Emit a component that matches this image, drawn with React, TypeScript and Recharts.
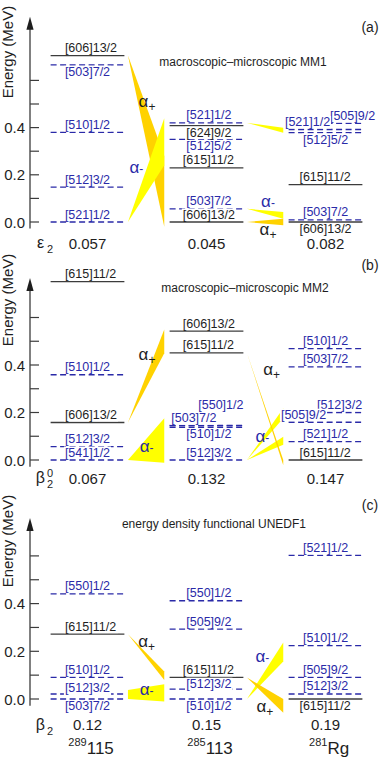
import React from "react";
import {
  ComposedChart,
  XAxis,
  YAxis,
  Line,
  Area,
  Scatter,
  ReferenceLine,
  ReferenceDot,
} from "recharts";

const FONT = '"Liberation Sans", Arial, Helvetica, sans-serif';
const INK = "#1e1e1e";
const SOLID = "#3c3c3c";
const BLUE = "#2a2aa8";
const GOLD = "#ffd200";
const YELLOW = "#ffff00";

// ---------- data ----------
const massNumbers = ["289", "285", "281"];
const nuclei = ["115", "113", "Rg"];

const eps2MM1 = ["0.057", "0.045", "0.082"];
const beta20MM2 = ["0.067", "0.132", "0.147"];
const beta2UNEDF1 = ["0.12", "0.15", "0.19"];

const energyTicks = [0, 0.1, 0.2, 0.3, 0.4, 0.5, 0.6];
const labelledTicks = [0, 0.2, 0.4];

// [column, Nilsson orbital, energy (MeV), label under the line]
type Level = [number, string, number, boolean?];
// [from column, start low, start high, end low, end high, alpha sign]
type Decay = [number, number, number, number, number, "+" | "-"];

const levelsMM1: Level[] = [
  [0, "[606]13/2", 0.705],
  [0, "[503]7/2", 0.666, true],
  [0, "[510]1/2", 0.38],
  [0, "[512]3/2", 0.148],
  [0, "[521]1/2", 0.0],
  [1, "[521]1/2", 0.42],
  [1, "[624]9/2", 0.408, true],
  [1, "[512]5/2", 0.35, true],
  [1, "[615]11/2", 0.229],
  [1, "[503]7/2", 0.056],
  [1, "[606]13/2", 0.0],
  [2, "[505]9/2", 0.418],
  [2, "[521]1/2", 0.392],
  [2, "[512]5/2", 0.379, true],
  [2, "[615]11/2", 0.158],
  [2, "[503]7/2", 0.009],
  [2, "[606]13/2", 0.0, true],
];

const decaysMM1: Decay[] = [
  [0, 0.705, 0.705, -0.02, 0.28, "+"],
  [0, 0.0, 0.0, 0.24, 0.44, "-"],
  [1, 0.42, 0.42, 0.378, 0.399, "-"],
  [1, 0.056, 0.056, 0.014, 0.042, "-"],
  [1, 0.0, 0.0, -0.014, 0.014, "+"],
];

const levelsMM2: Level[] = [
  [0, "[615]11/2", 0.751],
  [0, "[510]1/2", 0.359],
  [0, "[606]13/2", 0.158],
  [0, "[512]3/2", 0.056],
  [0, "[541]1/2", 0.0],
  [1, "[606]13/2", 0.543],
  [1, "[615]11/2", 0.451],
  [1, "[550]1/2", 0.146],
  [1, "[503]7/2", 0.144],
  [1, "[510]1/2", 0.137, true],
  [1, "[512]3/2", 0.0],
  [2, "[510]1/2", 0.469],
  [2, "[503]7/2", 0.392],
  [2, "[512]3/2", 0.2],
  [2, "[505]9/2", 0.159],
  [2, "[521]1/2", 0.077],
  [2, "[615]11/2", 0.0],
];

const decaysMM2: Decay[] = [
  [0, 0.158, 0.158, 0.45, 0.55, "+"],
  [0, 0.0, 0.0, -0.012, 0.176, "-"],
  [1, 0.0, 0.0, 0.176, 0.218, "-"],
  [1, 0.0, 0.0, 0.064, 0.098, "-"],
  [1, 0.451, 0.451, -0.022, 0.0, "+"],
];

const levelsUNEDF1: Level[] = [
  [0, "[550]1/2", 0.441],
  [0, "[615]11/2", 0.272],
  [0, "[510]1/2", 0.091],
  [0, "[512]3/2", 0.021],
  [0, "[503]7/2", 0.0, true],
  [1, "[550]1/2", 0.412],
  [1, "[505]9/2", 0.293],
  [1, "[615]11/2", 0.091],
  [1, "[512]3/2", 0.041],
  [1, "[510]1/2", 0.0, true],
  [2, "[521]1/2", 0.602],
  [2, "[510]1/2", 0.224],
  [2, "[505]9/2", 0.091],
  [2, "[512]3/2", 0.021],
  [2, "[615]11/2", 0.0, true],
];

const decaysUNEDF1: Decay[] = [
  [0, 0.272, 0.272, 0.08, 0.115, "+"],
  [0, 0.0, 0.038, -0.011, 0.062, "-"],
  [1, 0.0, 0.0, 0.157, 0.237, "-"],
  [1, 0.09, 0.09, -0.058, 0.0, "+"],
];

// ---------- layout ----------
const Z = 222; // px from top of a panel to E = 0
const X_MIN = -0.4832;
const X_MAX = 2.4748;
const HALF = 0.31;
const GAP0 = 0.34;
const GAP1 = 0.645;

// where the alpha tags sit: [x, energy, sign]
const alphaTagsMM1: [number, number, "+" | "-"][] = [
  [0.5, 0.51, "+"],
  [0.41, 0.228, "-"],
  [1.517, 0.086, "-"],
  [1.517, -0.034, "+"],
];
const alphaTagsMM2: [number, number, "+" | "-"][] = [
  [0.5, 0.442, "+"],
  [0.497, 0.056, "-"],
  [1.548, 0.379, "+"],
  [1.47, 0.098, "-"],
];
const alphaTagsUNEDF1: [number, number, "+" | "-"][] = [
  [0.497, 0.24, "+"],
  [0.497, 0.038, "-"],
  [1.47, 0.177, "-"],
  [1.49, -0.032, "+"],
];

// pixel nudges for crowded labels
const tagNudge: Record<string, [number, number]> = {
  "a 2 [521]1/2": [-18, 0],
  "a 2 [505]9/2": [27, 0],
  "b 1 [550]1/2": [12, -13],
  "b 1 [503]7/2": [-15, 0],
  "b 2 [512]3/2": [14, 0],
  "b 2 [505]9/2": [-22, 0],
  "c 0 [512]3/2": [0, 2],
  "c 1 [512]3/2": [0, 2],
};

const panels = [
  {
    id: "a", top: 0, height: 265, scale: 236,
    title: "macroscopic\u2013microscopic MM1", titleAt: [1.307, 0.678],
    letterE: 0.826, arrowTip: 0.87, energyAt: 0.72,
    sym: "\u03b5", symSup: "", defRow: -0.09, deform: eps2MM1,
    levels: levelsMM1, decays: decaysMM1, alphas: alphaTagsMM1, nuclei: false,
  },
  {
    id: "b", top: 238, height: 265, scale: 237.5,
    title: "macroscopic\u2013microscopic MM2", titleAt: [1.324, 0.724],
    letterE: 0.821, arrowTip: 0.766, energyAt: 0.674,
    sym: "\u03b2", symSup: "0", defRow: -0.077, deform: beta20MM2,
    levels: levelsMM2, decays: decaysMM2, alphas: alphaTagsMM2, nuclei: false,
  },
  {
    id: "c", top: 477, height: 284, scale: 238.5,
    title: "energy density functional UNEDF1", titleAt: [1.063, 0.734],
    letterE: 0.813, arrowTip: 0.759, energyAt: 0.662,
    sym: "\u03b2", symSup: "", defRow: -0.109, deform: beta2UNEDF1,
    levels: levelsUNEDF1, decays: decaysUNEDF1, alphas: alphaTagsUNEDF1, nuclei: true,
  },
];

function textWidth(s: string, fs: number) {
  let w = 0;
  for (const ch of s) w += "[]/".includes(ch) ? 0.278 : 0.556;
  return w * fs;
}

function LevelTag(props: any) {
  const { cx, cy, payload } = props;
  const { text, below, anchor, nx, ny, blue } = payload;
  const fs = 12.5;
  const w = textWidth(text, fs);
  const x = cx + nx;
  const base = cy + ny + (below ? 11 : -3.5);
  const left = anchor === "start" ? x : x - w / 2;
  return (
    <g>
      <rect x={left - 1} y={base - 10} width={w + 2} height={12.5} fill="#fff" />
      <text x={left} y={base} fontSize={fs} fill={blue ? BLUE : INK} fontFamily={FONT}>
        {text}
      </text>
    </g>
  );
}

function AlphaTag(props: any) {
  const { cx, cy, payload } = props;
  const minus = payload.sign === "-";
  return (
    <text x={cx} y={cy + 5} textAnchor="middle" fontFamily={FONT} fill={minus ? BLUE : INK}>
      <tspan fontSize={17}>α</tspan>
      <tspan fontSize={12} dy={minus ? 0 : 4}>{minus ? "-" : "+"}</tspan>
    </text>
  );
}

function DeformTag(props: any) {
  const { cx, cy, payload } = props;
  return (
    <text x={cx} y={cy + 5.5} textAnchor="middle" fontSize={15} fill={INK} fontFamily={FONT}>
      {payload.v}
    </text>
  );
}

function NucleusTag(props: any) {
  const { cx, cy, payload } = props;
  return (
    <text x={cx} y={cy + 6} textAnchor="middle" fill={INK} fontFamily={FONT}>
      <tspan fontSize={11} dy={-8}>{payload.mass}</tspan>
      <tspan fontSize={17} dy={8}>{payload.name}</tspan>
    </text>
  );
}

function EnergyTick(props: any) {
  const { x, y, payload } = props;
  const v: number = payload.value;
  const shown = labelledTicks.some((t) => Math.abs(t - v) < 1e-6);
  return (
    <g>
      <line x1={x} x2={x + 9} y1={y} y2={y} stroke={SOLID} strokeWidth={1.2} />
      {shown && (
        <text x={x - 5} y={y + 5.5} textAnchor="end" fontSize={15} fill={INK} fontFamily={FONT}>
          {v.toFixed(1)}
        </text>
      )}
    </g>
  );
}

function Panel({ p }: { p: (typeof panels)[number] }) {
  const yMax = Z / p.scale;
  const yMin = -(p.height - Z) / p.scale;

  const tags = p.levels.map(([col, orb, e, below]) => {
    const n = tagNudge[`${p.id} ${col} ${orb}`] || [0, 0];
    return {
      x: col === 0 ? col - 0.19 : col === 1 ? col + 0.02 : col,
      y: e,
      text: orb,
      below: !!below,
      anchor: col === 0 ? "start" : "middle",
      nx: n[0],
      ny: n[1],
      blue: orb[1] === "5",
    };
  });
  const alphas = p.alphas.map(([x, y, sign]) => ({ x, y, sign }));
  const deform = p.deform.map((v, i) => ({ x: i, y: p.defRow, v }));
  const nucl = nuclei.map((name, i) => ({ x: i + 0.03, y: -0.205, name, mass: massNumbers[i] }));

  return (
    <div style={{ position: "absolute", left: 0, top: p.top }}>
      <ComposedChart width={382} height={p.height} margin={{ top: 0, right: 0, bottom: 0, left: 0 }}>
        <XAxis type="number" dataKey="x" domain={[X_MIN, X_MAX]} allowDataOverflow hide />
        <YAxis
          type="number"
          domain={[yMin, yMax]}
          allowDataOverflow
          ticks={energyTicks}
          interval={0}
          width={30}
          axisLine={false}
          tickLine={false}
          tickSize={0}
          tickMargin={0}
          tick={(t: any) => <EnergyTick {...t} />}
        />

        {p.decays.map(([col, s0, s1, e0, e1, sign], i) => (
          <Area
            key={`d${i}`}
            data={[
              { x: col + GAP0, r: [s0, s1] },
              { x: col + GAP1, r: [e0, e1] },
            ]}
            dataKey="r"
            type="linear"
            stroke="none"
            fill={sign === "+" ? GOLD : YELLOW}
            fillOpacity={1}
            dot={false}
            activeDot={false}
            isAnimationActive={false}
          />
        ))}

        {p.levels.map(([col, orb, e], i) => {
          const positive = orb[1] === "6";
          return (
            <Line
              key={`l${i}`}
              data={[
                { x: col - HALF, y: e },
                { x: col + HALF, y: e },
              ]}
              dataKey="y"
              type="linear"
              stroke={positive ? SOLID : BLUE}
              strokeWidth={1.3}
              strokeDasharray={positive ? undefined : "6 3.5"}
              dot={false}
              activeDot={false}
              isAnimationActive={false}
            />
          );
        })}

        <Scatter data={tags} dataKey="y" shape={(s: any) => <LevelTag {...s} />} isAnimationActive={false} />
        <Scatter data={alphas} dataKey="y" shape={(s: any) => <AlphaTag {...s} />} isAnimationActive={false} />
        <Scatter data={deform} dataKey="y" shape={(s: any) => <DeformTag {...s} />} isAnimationActive={false} />
        {p.nuclei && (
          <Scatter data={nucl} dataKey="y" shape={(s: any) => <NucleusTag {...s} />} isAnimationActive={false} />
        )}

        <ReferenceLine
          segment={[
            { x: X_MIN, y: -0.028 },
            { x: X_MIN, y: p.arrowTip - 0.03 },
          ]}
          stroke={SOLID}
          strokeWidth={1.3}
          ifOverflow="visible"
        />
        <ReferenceDot
          x={X_MIN}
          y={p.arrowTip}
          r={0}
          ifOverflow="visible"
          shape={(s: any) => (
            <path d={`M${s.cx},${s.cy} L${s.cx - 3.6},${s.cy + 13} L${s.cx + 3.6},${s.cy + 13} Z`} fill={INK} />
          )}
        />
        <ReferenceDot
          x={X_MIN - 0.185}
          y={p.energyAt}
          r={0}
          ifOverflow="visible"
          shape={(s: any) => (
            <text
              x={s.cx}
              y={s.cy}
              transform={`rotate(-90 ${s.cx} ${s.cy})`}
              textAnchor="middle"
              dy={5}
              fontSize={15}
              fill={INK}
              fontFamily={FONT}
            >
              Energy (MeV)
            </text>
          )}
        />
        <ReferenceDot
          x={p.titleAt[0]}
          y={p.titleAt[1]}
          r={0}
          ifOverflow="visible"
          shape={(s: any) => (
            <text x={s.cx} y={s.cy + 4} textAnchor="middle" fontSize={12} fill={INK} fontFamily={FONT}>
              {p.title}
            </text>
          )}
        />
        <ReferenceDot
          x={2.374}
          y={p.letterE}
          r={0}
          ifOverflow="visible"
          shape={(s: any) => (
            <text x={s.cx} y={s.cy + 5} textAnchor="middle" fontSize={14} fill={INK} fontFamily={FONT}>
              ({p.id})
            </text>
          )}
        />
        <ReferenceDot
          x={-0.37}
          y={p.defRow}
          r={0}
          ifOverflow="visible"
          shape={(s: any) => (
            <g fill={INK} fontFamily={FONT}>
              <text x={s.cx - 3} y={s.cy + 5} textAnchor="middle" fontSize={16}>
                {p.sym}
              </text>
              <text x={s.cx + 3.5} y={s.cy + 10} fontSize={11}>
                2
              </text>
              {p.symSup && (
                <text x={s.cx + 3.5} y={s.cy - 1} fontSize={11}>
                  {p.symSup}
                </text>
              )}
            </g>
          )}
        />
      </ComposedChart>
    </div>
  );
}

export default function App() {
  return (
    <div style={{ position: "relative", width: 382, height: 761, background: "#fff", overflow: "hidden" }}>
      <style>{"body{margin:0}"}</style>
      {panels.map((p) => (
        <Panel key={p.id} p={p} />
      ))}
    </div>
  );
}
